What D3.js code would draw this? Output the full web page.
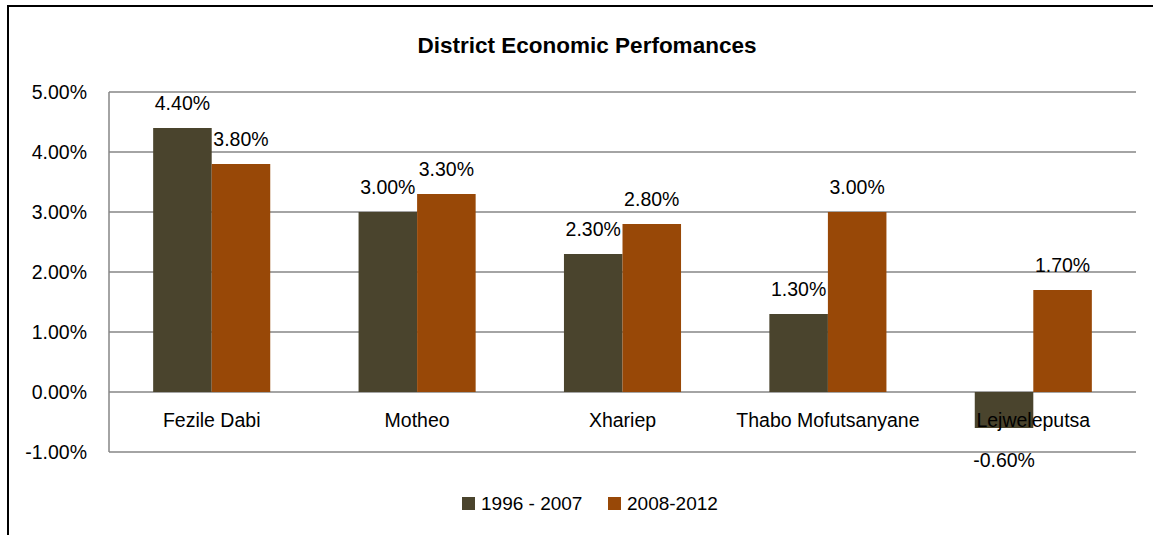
<!DOCTYPE html>
<html><head><meta charset="utf-8">
<script src="https://cdn.jsdelivr.net/npm/d3@7"></script>
<style>
html,body{margin:0;padding:0;background:#fff;}
text{font-family:"Liberation Sans",Arial,sans-serif;fill:#000;}
</style></head>
<body>
<svg id="chart" width="1153" height="535"></svg>
<script>
const categories = ["Fezile Dabi","Motheo","Xhariep","Thabo Mofutsanyane","Lejweleputsa"];
const seriesNames = ["1996 - 2007","2008-2012"];
const series1 = [4.40, 3.00, 2.30, 1.30, -0.60];
const series2 = [3.80, 3.30, 2.80, 3.00, 1.70];
const yTicks = [-1,0,1,2,3,4,5];
const colors = ["#4a442d","#984807"];
const title = "District Economic Perfomances";

const svg = d3.select("#chart");
const W = 1153, H = 535;
const m = {left:109, right:1136, top:92, bottom:452};
const pct = d => (d < 0 ? "-" : "") + Math.abs(d).toFixed(2) + "%";

// outer frame
svg.append("line").attr("x1",7).attr("x2",W).attr("y1",6).attr("y2",6).attr("stroke","#000").attr("stroke-width",2);
svg.append("line").attr("x1",8).attr("x2",8).attr("y1",5).attr("y2",H).attr("stroke","#000").attr("stroke-width",2);

const x0 = d3.scaleBand().domain(categories).range([m.left,m.right]).paddingInner(0.43).paddingOuter(0.215);
const x1 = d3.scaleBand().domain([0,1]).range([0,x0.bandwidth()]);
const y = d3.scaleLinear().domain([-1,5]).range([m.bottom,m.top]);

// gridlines
svg.append("g").selectAll("line").data(yTicks).join("line")
  .attr("x1",m.left).attr("x2",m.right)
  .attr("y1",d=>y(d)).attr("y2",d=>y(d))
  .attr("stroke","#868686").attr("stroke-width",1.5);
svg.append("line").attr("x1",m.left).attr("x2",m.left).attr("y1",m.top).attr("y2",m.bottom)
  .attr("stroke","#868686").attr("stroke-width",1.5);

// y axis labels
const yAxis = d3.axisLeft(y).tickValues(yTicks).tickSize(0).tickPadding(22).tickFormat(pct);
const gy = svg.append("g").attr("transform",`translate(${m.left},0)`).call(yAxis);
gy.select(".domain").remove();
gy.selectAll("text").style("font-size","19.5px").style("font-family",null);

// bars
const data = categories.map((c,i)=>({c, vals:[series1[i],series2[i]]}));
const groups = svg.append("g").selectAll("g").data(data).join("g")
  .attr("transform",d=>`translate(${x0(d.c)},0)`);
groups.selectAll("rect").data(d=>d.vals.map((v,j)=>({v,j}))).join("rect")
  .attr("x",d=>x1(d.j)).attr("width",x1.bandwidth())
  .attr("y",d=>y(Math.max(0,d.v))).attr("height",d=>Math.abs(y(d.v)-y(0)))
  .attr("fill",d=>colors[d.j]);

// category labels
const xAxis = d3.axisBottom(x0).tickSize(0).tickPadding(21);
const gx = svg.append("g").attr("transform",`translate(0,${y(0)})`).call(xAxis);
gx.select(".domain").remove();
gx.selectAll("text").style("font-size","19.5px").style("font-family",null);

// data labels
groups.selectAll("text.lbl").data(d=>d.vals.map((v,j)=>({v,j}))).join("text")
  .attr("class","lbl")
  .attr("x",d=>x1(d.j)+x1.bandwidth()/2)
  .attr("y",d=>d.v>=0 ? y(d.v)-25+7 : y(d.v)+32+7)
  .attr("text-anchor","middle").style("font-size","19.5px")
  .text(d=>pct(d.v));

// title
svg.append("text").attr("x",587).attr("y",53).attr("text-anchor","middle")
  .style("font-size","22.5px").style("font-weight","bold").text(title);

// legend
const leg = svg.append("g");
const legX = [462, 608];
seriesNames.forEach((s,i)=>{
  leg.append("rect").attr("x",legX[i]).attr("y",497).attr("width",13).attr("height",13).attr("fill",colors[i]);
  leg.append("text").attr("x",legX[i]+19).attr("y",510).style("font-size","19px").text(s);
});
</script>
</body></html>
